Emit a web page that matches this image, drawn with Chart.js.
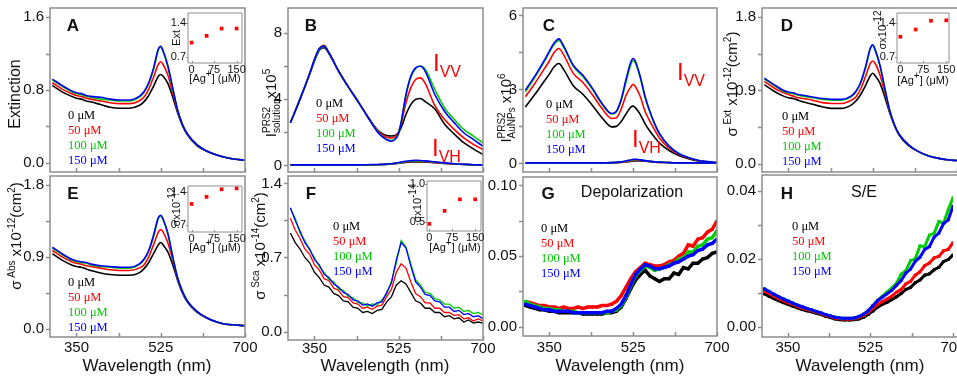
<!DOCTYPE html>
<html lang="en">
<head>
<meta charset="UTF-8" />
<title>Ag+ spectra panels</title>
<script src="https://cdn.jsdelivr.net/npm/chart.js@4.4.1/dist/chart.umd.min.js"></script>
<style>
  body { margin: 0; background: #fff; }
  #fig { position: relative; width: 957px; height: 388px; overflow: hidden;
         font-family: 'Liberation Sans', Arial, sans-serif; color: #111; }
  #fig canvas { position: absolute; left: 0; top: 0; }
  .lab { position: absolute; white-space: nowrap; transform: translate(-50%, -50%); }
  .rot { position: absolute; white-space: nowrap; transform: translate(-50%, -50%) rotate(-90deg); font-size: 15px; }
  .let { position: absolute; font-weight: bold; font-size: 17px; transform: translate(-50%, -50%); }
  .leg { position: absolute; font-family: 'Liberation Serif', 'DejaVu Serif', serif; font-size: 12.5px; line-height: 15px; }
  .iv { position: absolute; color: #f00; font-size: 24px; white-space: nowrap; transform: translate(0, -50%); }
  .iv sub { font-size: 16px; vertical-align: -6px; line-height: 0; }
  .wl { position: absolute; font-size: 17px; white-space: nowrap; transform: translate(-50%, -50%); }
  .ins { font-size: 11px; }
  sup, sub { line-height: 0; font-size: 10px; }
  .ss { display: inline-block; vertical-align: middle; line-height: 10px; font-size: 10px; text-align: left; }
  .k { color: #000; } .r { color: #f00; } .g { color: #00c800; } .b { color: #0000ff; }
</style>
</head>
<body>
<div id="fig"></div>

<script>
// wavelength grids (nm)
const WL = [300,320,340,350,360,370,380,400,420,440,460,480,490,500,510,520,525,530,540,550,560,570,580,600,620,640,660,680,700];
const WL10 = [300,310,320,330,340,350,360,370,380,390,400,410,420,430,440,450,460,470,480,490,500,510,520,530,540,550,560,570,580,590,600,610,620,630,640,650,660,670,680,690,700];
const AG = [0, 50, 100, 150];

// A: extinction
const A_BLACK = [0.85,0.78,0.73,0.71,0.70,0.68,0.67,0.64,0.61,0.60,0.60,0.63,0.67,0.74,0.84,0.95,0.97,0.95,0.87,0.72,0.55,0.41,0.31,0.19,0.13,0.09,0.06,0.04,0.03];
const A_RED   = [0.88,0.81,0.76,0.74,0.73,0.71,0.70,0.68,0.66,0.65,0.65,0.68,0.72,0.81,0.94,1.08,1.11,1.08,0.96,0.77,0.57,0.42,0.32,0.20,0.13,0.09,0.06,0.04,0.03];
const A_GREEN = [0.91,0.84,0.78,0.76,0.75,0.73,0.72,0.70,0.69,0.68,0.68,0.72,0.77,0.87,1.02,1.24,1.27,1.22,1.05,0.81,0.58,0.42,0.32,0.20,0.13,0.09,0.06,0.04,0.03];
const A_BLUE  = [0.92,0.85,0.79,0.77,0.76,0.74,0.73,0.72,0.70,0.69,0.69,0.73,0.78,0.88,1.04,1.25,1.28,1.23,1.06,0.82,0.58,0.42,0.32,0.20,0.13,0.09,0.06,0.04,0.03];
const A_INSET = [0.99, 1.13, 1.28, 1.28];

// B: I(PRS2) solution, x1e5
const B_BLACK = [2.57,4.0,5.5,6.3,6.95,7.1,6.75,5.68,4.74,3.87,2.97,2.17,1.93,1.80,1.77,1.85,2.0,2.27,3.07,3.67,3.98,4.04,3.85,3.4,2.5,1.9,1.37,1.0,0.65];
const B_RED   = [2.57,4.0,5.55,6.4,7.05,7.25,6.8,5.7,4.75,3.88,2.97,2.12,1.85,1.70,1.65,1.80,2.05,2.5,3.78,4.68,5.18,5.28,4.95,3.6,2.78,2.17,1.66,1.27,0.95];
const B_GREEN = [2.57,4.0,5.55,6.35,7.0,7.2,6.8,5.7,4.75,3.88,2.95,2.08,1.78,1.57,1.50,1.70,2.0,2.6,4.2,5.3,5.85,6.0,5.8,4.58,3.47,2.78,2.17,1.77,1.35];
const B_BLUE  = [2.57,4.0,5.55,6.4,7.05,7.2,6.8,5.7,4.75,3.88,2.95,2.05,1.75,1.55,1.46,1.65,1.95,2.6,4.28,5.38,5.89,5.98,5.68,4.28,3.27,2.58,1.97,1.57,1.15];
const B_VH_BLACK = [0.02,0.02,0.02,0.02,0.02,0.02,0.02,0.02,0.02,0.02,0.03,0.04,0.05,0.06,0.08,0.11,0.13,0.15,0.18,0.20,0.21,0.21,0.20,0.16,0.12,0.08,0.05,0.03,0.02];
const B_VH_RED   = [0.02,0.02,0.02,0.02,0.02,0.02,0.02,0.02,0.02,0.02,0.03,0.04,0.05,0.07,0.09,0.12,0.14,0.17,0.21,0.23,0.24,0.24,0.23,0.18,0.13,0.09,0.06,0.04,0.02];
const B_VH_GREEN = [0.02,0.02,0.02,0.02,0.02,0.02,0.02,0.02,0.02,0.02,0.03,0.04,0.05,0.07,0.09,0.13,0.15,0.18,0.23,0.25,0.26,0.26,0.25,0.20,0.14,0.10,0.06,0.04,0.03];
const B_VH_BLUE  = [0.03,0.03,0.03,0.03,0.03,0.03,0.03,0.03,0.03,0.03,0.04,0.05,0.06,0.08,0.10,0.14,0.17,0.20,0.25,0.28,0.30,0.29,0.27,0.21,0.15,0.10,0.07,0.04,0.03];

// C: I(PRS2) AuNPs, x1e6
const C_BLACK = [2.29,2.8,3.35,3.62,3.92,4.05,3.8,3.15,2.8,2.35,1.85,1.48,1.5,1.7,2.0,2.28,2.32,2.25,1.98,1.6,1.3,1.05,0.82,0.52,0.32,0.19,0.1,0.05,0.02];
const C_RED   = [2.7,3.25,3.85,4.15,4.5,4.66,4.4,3.65,3.28,2.78,2.22,1.82,1.85,2.2,2.75,3.1,3.21,3.1,2.7,2.1,1.7,1.35,1.02,0.62,0.37,0.22,0.12,0.06,0.03];
const C_GREEN = [2.9,3.5,4.15,4.5,4.82,4.98,4.7,3.94,3.52,3.0,2.4,2.0,2.08,2.55,3.3,4.0,4.17,4.05,3.45,2.66,2.07,1.58,1.19,0.69,0.4,0.24,0.13,0.07,0.03];
const C_BLUE  = [2.97,3.55,4.2,4.55,4.88,5.05,4.75,3.98,3.57,3.04,2.43,2.02,2.12,2.6,3.4,4.1,4.25,4.12,3.5,2.7,2.1,1.6,1.2,0.7,0.4,0.24,0.13,0.07,0.03];
const C_VH_BLACK = [0.02,0.02,0.02,0.02,0.02,0.02,0.02,0.02,0.02,0.02,0.02,0.02,0.03,0.04,0.06,0.08,0.09,0.10,0.10,0.09,0.07,0.05,0.04,0.03,0.02,0.02,0.02,0.02,0.02];
const C_VH_RED   = [0.02,0.02,0.02,0.02,0.02,0.02,0.02,0.02,0.02,0.02,0.02,0.03,0.03,0.05,0.07,0.10,0.11,0.12,0.12,0.10,0.08,0.06,0.04,0.03,0.02,0.02,0.02,0.02,0.02];
const C_VH_GREEN = [0.02,0.02,0.02,0.02,0.02,0.02,0.02,0.02,0.02,0.02,0.02,0.03,0.04,0.06,0.09,0.12,0.14,0.15,0.14,0.11,0.08,0.06,0.05,0.03,0.02,0.02,0.02,0.02,0.02];
const C_VH_BLUE  = [0.02,0.02,0.02,0.02,0.02,0.02,0.02,0.02,0.02,0.02,0.02,0.03,0.04,0.06,0.10,0.14,0.16,0.16,0.14,0.11,0.08,0.06,0.05,0.03,0.02,0.02,0.02,0.02,0.02];

// D: sigma ext x1e-12
const D_BLACK = [0.97,0.89,0.83,0.81,0.80,0.78,0.76,0.73,0.70,0.68,0.68,0.72,0.77,0.85,0.96,1.08,1.11,1.08,0.99,0.82,0.63,0.47,0.35,0.22,0.15,0.10,0.07,0.05,0.04];
const D_RED   = [1.01,0.93,0.87,0.85,0.83,0.81,0.80,0.78,0.75,0.74,0.74,0.78,0.82,0.92,1.07,1.23,1.26,1.23,1.09,0.88,0.65,0.48,0.36,0.23,0.15,0.10,0.07,0.05,0.04];
const D_GREEN = [1.04,0.96,0.89,0.87,0.86,0.84,0.83,0.81,0.79,0.78,0.78,0.82,0.88,0.99,1.17,1.41,1.45,1.39,1.20,0.92,0.66,0.48,0.36,0.23,0.15,0.10,0.07,0.05,0.04];
const D_BLUE  = [1.05,0.97,0.90,0.88,0.87,0.85,0.84,0.82,0.80,0.79,0.79,0.83,0.89,1.00,1.19,1.42,1.46,1.40,1.21,0.93,0.66,0.48,0.36,0.23,0.15,0.10,0.07,0.05,0.04];
const D_INSET = [1.12, 1.27, 1.45, 1.46];

// E: sigma abs x1e-12
const E_BLACK = [0.94,0.86,0.80,0.78,0.77,0.75,0.73,0.70,0.68,0.67,0.67,0.70,0.75,0.83,0.94,1.05,1.08,1.05,0.96,0.80,0.61,0.45,0.34,0.21,0.14,0.09,0.06,0.05,0.04];
const E_RED   = [0.98,0.90,0.84,0.82,0.81,0.79,0.78,0.76,0.74,0.73,0.73,0.76,0.80,0.90,1.05,1.21,1.24,1.21,1.07,0.86,0.63,0.46,0.35,0.22,0.14,0.09,0.06,0.05,0.04];
const E_GREEN = [1.01,0.93,0.86,0.84,0.83,0.82,0.80,0.78,0.77,0.76,0.76,0.80,0.86,0.97,1.15,1.38,1.41,1.36,1.18,0.89,0.64,0.47,0.35,0.22,0.14,0.09,0.06,0.05,0.04];
const E_BLUE  = [1.02,0.94,0.87,0.85,0.84,0.83,0.81,0.79,0.78,0.77,0.77,0.81,0.87,0.98,1.17,1.39,1.42,1.37,1.19,0.90,0.64,0.47,0.35,0.22,0.14,0.09,0.06,0.05,0.04];
const E_INSET = [1.14, 1.29, 1.45, 1.47];

// F: sigma sca x1e-14 (10 nm grid)
const F_BLACK = [0.93,0.84,0.78,0.70,0.65,0.56,0.51,0.44,0.42,0.36,0.34,0.29,0.28,0.23,0.22,0.18,0.19,0.17,0.20,0.21,0.28,0.33,0.44,0.48,0.45,0.37,0.29,0.27,0.22,0.22,0.18,0.18,0.14,0.15,0.12,0.13,0.09,0.11,0.08,0.09,0.08];
const F_RED   = [1.07,0.96,0.88,0.78,0.73,0.63,0.58,0.50,0.48,0.41,0.39,0.33,0.32,0.27,0.26,0.22,0.23,0.21,0.24,0.25,0.33,0.40,0.56,0.64,0.60,0.47,0.36,0.33,0.27,0.27,0.22,0.22,0.18,0.18,0.15,0.16,0.12,0.13,0.10,0.12,0.10];
const F_GREEN = [1.16,1.07,0.93,0.86,0.77,0.70,0.61,0.56,0.49,0.47,0.40,0.39,0.33,0.32,0.27,0.27,0.24,0.26,0.25,0.30,0.35,0.48,0.65,0.86,0.80,0.64,0.49,0.44,0.37,0.36,0.31,0.30,0.26,0.26,0.22,0.23,0.19,0.20,0.17,0.18,0.16];
const F_BLUE  = [1.17,1.05,0.95,0.84,0.78,0.68,0.63,0.54,0.51,0.45,0.42,0.37,0.35,0.30,0.29,0.25,0.26,0.24,0.27,0.28,0.37,0.46,0.68,0.84,0.79,0.62,0.47,0.42,0.35,0.34,0.29,0.28,0.23,0.23,0.19,0.20,0.16,0.17,0.14,0.15,0.12];
const F_INSET = [0.48, 0.65, 0.80, 0.80];

// G: depolarization
const G_BLACK = [0.015,0.014,0.013,0.012,0.012,0.011,0.011,0.010,0.010,0.010,0.010,0.010,0.009,0.009,0.009,0.009,0.009,0.010,0.010,0.011,0.014,0.020,0.027,0.033,0.037,0.040,0.036,0.034,0.032,0.034,0.034,0.038,0.037,0.042,0.041,0.045,0.045,0.048,0.049,0.052,0.053];
const G_RED   = [0.018,0.017,0.016,0.015,0.015,0.014,0.014,0.013,0.014,0.013,0.013,0.014,0.013,0.014,0.014,0.014,0.015,0.015,0.016,0.018,0.022,0.028,0.034,0.039,0.042,0.045,0.044,0.043,0.043,0.044,0.046,0.047,0.050,0.052,0.058,0.057,0.062,0.063,0.067,0.069,0.075];
const G_GREEN = [0.018,0.016,0.015,0.014,0.013,0.013,0.012,0.012,0.011,0.011,0.011,0.010,0.010,0.010,0.010,0.010,0.010,0.010,0.011,0.012,0.015,0.021,0.029,0.036,0.040,0.043,0.042,0.040,0.041,0.042,0.044,0.045,0.048,0.049,0.053,0.053,0.057,0.058,0.062,0.063,0.068];
const G_BLUE  = [0.016,0.015,0.014,0.013,0.012,0.012,0.011,0.011,0.011,0.011,0.010,0.010,0.010,0.010,0.010,0.010,0.010,0.011,0.011,0.013,0.016,0.022,0.030,0.037,0.041,0.044,0.043,0.041,0.041,0.042,0.043,0.045,0.046,0.048,0.050,0.051,0.054,0.055,0.058,0.059,0.062];

// H: scattering / extinction
const H_BLACK = [0.0097,0.0090,0.0083,0.0077,0.0071,0.0066,0.0061,0.0056,0.0051,0.0047,0.0044,0.0040,0.0036,0.0031,0.0027,0.0023,0.0021,0.0020,0.0020,0.0021,0.0023,0.0028,0.0036,0.0046,0.0058,0.0066,0.0072,0.0080,0.0088,0.0098,0.0110,0.0116,0.0130,0.0138,0.0152,0.0156,0.0168,0.0175,0.0192,0.0198,0.0212];
const H_RED   = [0.0105,0.0098,0.0090,0.0083,0.0077,0.0071,0.0066,0.0060,0.0055,0.0051,0.0047,0.0043,0.0038,0.0034,0.0030,0.0026,0.0024,0.0023,0.0023,0.0024,0.0027,0.0033,0.0042,0.0054,0.0066,0.0074,0.0082,0.0090,0.0102,0.0110,0.0126,0.0134,0.0152,0.0162,0.0180,0.0188,0.0203,0.0207,0.0224,0.0228,0.0248];
const H_GREEN = [0.0112,0.0104,0.0096,0.0089,0.0082,0.0076,0.0070,0.0064,0.0059,0.0054,0.0050,0.0045,0.0041,0.0036,0.0032,0.0028,0.0026,0.0025,0.0025,0.0026,0.0030,0.0037,0.0047,0.0062,0.0078,0.0090,0.0102,0.0114,0.0128,0.0155,0.0165,0.0195,0.0200,0.0238,0.0236,0.0270,0.0275,0.0310,0.0305,0.0345,0.0380];
const H_BLUE  = [0.0112,0.0104,0.0096,0.0089,0.0082,0.0076,0.0070,0.0064,0.0059,0.0054,0.0050,0.0045,0.0041,0.0036,0.0032,0.0028,0.0026,0.0025,0.0025,0.0026,0.0030,0.0037,0.0047,0.0062,0.0077,0.0087,0.0097,0.0107,0.0122,0.0136,0.0158,0.0170,0.0193,0.0205,0.0228,0.0236,0.0264,0.0276,0.0304,0.0315,0.0355];

const BLACK = '#000000', RED = '#ff0000', GREEN = '#00d000', BLUE = '#0000ff';

// box + tick marks around the plot area
const framePlugin = {
  id: 'frame',
  beforeDatasetsDraw(chart, args, opts) {
    if (!opts.fill) return;
    const a = chart.chartArea;
    chart.ctx.save();
    chart.ctx.fillStyle = '#fff';
    chart.ctx.fillRect(a.left, a.top, a.right - a.left, a.bottom - a.top);
    chart.ctx.restore();
  },
  afterDraw(chart, args, opts) {
    const { ctx, chartArea: a, scales } = chart;
    ctx.save();
    ctx.strokeStyle = '#8d8d8d';
    ctx.lineWidth = opts.width || 1.5;
    ctx.beginPath();
    if (opts.open) {
      ctx.moveTo(a.right + 5, a.top); ctx.lineTo(a.left, a.top);
      ctx.lineTo(a.left, a.bottom); ctx.lineTo(a.right + 5, a.bottom);
    } else {
      ctx.rect(a.left, a.top, a.right - a.left, a.bottom - a.top);
    }
    const t = opts.tick || 4;
    scales.y.ticks.forEach(k => {
      const py = Math.round(scales.y.getPixelForValue(k.value)) + 0.5;
      ctx.moveTo(a.left - t, py); ctx.lineTo(a.left, py);
    });
    scales.x.ticks.forEach(k => {
      const px = Math.round(scales.x.getPixelForValue(k.value)) + 0.5;
      ctx.moveTo(px, a.bottom); ctx.lineTo(px, a.bottom - t);
    });
    ctx.stroke();
    ctx.restore();
  }
};
Chart.register(framePlugin);

const fig = document.getElementById('fig');

function panel(o) {
  const cv = document.createElement('canvas');
  cv.width = 957; cv.height = 388;
  fig.appendChild(cv);
  const yw = o.yw || 45, xh = o.xh || 0, fs = o.fs || 15;
  const font = { family: "'Liberation Sans', Arial, sans-serif", size: fs };
  return new Chart(cv, {
    type: 'line',
    data: {
      datasets: o.sets.map(s => ({
        data: o.xs.map((x, i) => ({ x: x, y: s.v[i] })),
        borderColor: s.c,
        backgroundColor: s.c,
        borderWidth: o.bw || 1.6,
        pointRadius: o.pr || 0,
        pointStyle: 'rect',
        pointBorderWidth: 0,
        showLine: !o.noLine,
        cubicInterpolationMode: o.smooth ? 'monotone' : 'default',
        tension: 0,
        fill: false
      }))
    },
    options: {
      responsive: false,
      animation: false,
      events: [],
      layout: { padding: { left: o.L - yw, right: 957 - o.R, top: o.T, bottom: 388 - o.B - xh } },
      plugins: {
        legend: { display: false },
        tooltip: { enabled: false },
        frame: { open: o.open, tick: o.tick, fill: o.fill, width: o.fw }
      },
      scales: {
        x: {
          type: 'linear', min: o.xmin, max: o.xmax,
          afterBuildTicks: s => { s.ticks = o.xt.map(v => ({ value: v })); },
          afterFit: s => { s.height = xh; s.paddingLeft = 0; s.paddingRight = 0; },
          grid: { display: false, drawTicks: false },
          border: { display: false },
          ticks: { display: xh > 0, autoSkip: false, maxRotation: 0, padding: o.xpad || 0,
                   color: '#111', font: font, callback: (v, i) => o.xl[i] }
        },
        y: {
          type: 'linear', min: o.ymin, max: o.ymax,
          afterBuildTicks: s => { s.ticks = o.yt.map(v => ({ value: v })); },
          afterFit: s => { s.width = yw; s.paddingTop = 0; s.paddingBottom = 0; },
          grid: { display: false, drawTicks: false },
          border: { display: false },
          ticks: { autoSkip: false, padding: o.ypad || 6, color: '#111', font: font,
                   callback: (v, i) => o.yl[i] }
        }
      }
    }
  });
}

const XT = [350, 437.5, 525, 612.5, 700];
const XL_TOP = ['', '', '', '', ''];
const XL_BOT = ['350', '', '525', '', '700'];
const four = (k, r, g, b) => [{ v: b, c: BLUE }, { v: g, c: GREEN }, { v: r, c: RED }, { v: k, c: BLACK }];

// top row
panel({ L: 50, T: 8, R: 245, B: 172, xs: WL, smooth: true, xmin: 295, xmax: 700, xt: XT, xl: XL_TOP,
  ymin: -0.1, ymax: 1.7, yt: [0, 0.4, 0.8, 1.2, 1.6], yl: ['0.0', '', '0.8', '', '1.6'],
  sets: four(A_BLACK, A_RED, A_GREEN, A_BLUE) });
panel({ L: 288, T: 8, R: 483, B: 172, xs: WL, smooth: true, xmin: 295, xmax: 700, xt: XT, xl: XL_TOP,
  ymin: -0.4, ymax: 9.5, yt: [0, 2, 4, 6, 8], yl: ['0', '', '4', '', '8'],
  sets: four(B_VH_BLACK, B_VH_RED, B_VH_GREEN, B_VH_BLUE).concat(four(B_BLACK, B_RED, B_GREEN, B_BLUE)) });
panel({ L: 523, T: 8, R: 717, B: 172, xs: WL, smooth: true, xmin: 295, xmax: 700, xt: XT, xl: XL_TOP,
  ymin: -0.35, ymax: 6.3, yt: [0, 1.5, 3, 4.5, 6], yl: ['0', '', '3', '', '6'],
  sets: four(C_VH_BLACK, C_VH_RED, C_VH_GREEN, C_VH_BLUE).concat(four(C_BLACK, C_RED, C_GREEN, C_BLUE)) });
panel({ L: 762, T: 8, R: 961, B: 172, xs: WL, smooth: true, open: true, xmin: 295, xmax: 700, xt: XT, xl: XL_TOP,
  ymin: -0.1, ymax: 1.91, yt: [0, 0.45, 0.9, 1.35, 1.8], yl: ['0.0', '', '0.9', '', '1.8'],
  sets: four(D_BLACK, D_RED, D_GREEN, D_BLUE) });

// bottom row
panel({ L: 50, T: 176, R: 245, B: 337, xh: 30, xpad: 2, xs: WL, smooth: true, xmin: 295, xmax: 700, xt: XT, xl: XL_BOT,
  ymin: -0.1, ymax: 1.91, yt: [0, 0.45, 0.9, 1.35, 1.8], yl: ['0.0', '', '0.9', '', '1.8'],
  sets: four(E_BLACK, E_RED, E_GREEN, E_BLUE) });
panel({ L: 288, T: 176, R: 483, B: 340, xh: 30, xpad: 0, xs: WL10, bw: 1.3, xmin: 295, xmax: 700, xt: XT, xl: XL_BOT,
  ymin: -0.08, ymax: 1.47, yt: [0, 0.35, 0.7, 1.05, 1.4], yl: ['0.0', '', '0.7', '', '1.4'],
  sets: four(F_BLACK, F_RED, F_GREEN, F_BLUE) });
panel({ L: 523, T: 177, R: 717, B: 336, xh: 30, xpad: 3, xs: WL10, bw: 3.5, pr: 2, xmin: 295, xmax: 700, xt: XT, xl: XL_BOT,
  ymin: -0.0065, ymax: 0.106, yt: [0, 0.025, 0.05, 0.075, 0.1], yl: ['0.00', '', '0.05', '', '0.10'],
  sets: four(G_BLACK, G_RED, G_GREEN, G_BLUE) });
panel({ L: 762, T: 175, R: 961, B: 337, xh: 30, xpad: 2, open: true, xs: WL10, bw: 3, pr: 2, xmin: 295, xmax: 700, xt: XT, xl: XL_BOT,
  ymin: -0.003, ymax: 0.0447, yt: [0, 0.01, 0.02, 0.03, 0.04], yl: ['0.00', '', '0.02', '', '0.04'],
  sets: four(H_BLACK, H_RED, H_GREEN, H_BLUE) });

// insets: [Ag+] dependence
const INS = { yw: 22, xh: 12, fs: 11, tick: 2, fw: 1, fill: true, noLine: true, pr: 2.6, xs: AG,
  xt: [0, 75, 150], xl: ['0', '75', '150'], ypad: 2, xpad: 0 };
panel(Object.assign({}, INS, { L: 188, T: 13, R: 242, B: 63, xmin: -12, xmax: 168, ymin: 0.57, ymax: 1.60,
  yt: [0.7, 1.4], yl: ['0.7', '1.4'], sets: [{ v: A_INSET, c: RED }] }));
panel(Object.assign({}, INS, { L: 897, T: 13, R: 949, B: 63, xmin: -11, xmax: 159, ymin: 0.58, ymax: 1.61,
  yt: [0.7, 1.4], yl: ['0.7', '1.4'], sets: [{ v: D_INSET, c: RED }] }));
panel(Object.assign({}, INS, { L: 188, T: 186, R: 242, B: 232, xmin: -12, xmax: 168, ymin: 0.545, ymax: 1.52,
  yt: [0.7, 1.4], yl: ['0.7', '1.4'], sets: [{ v: E_INSET, c: RED }] }));
panel(Object.assign({}, INS, { L: 427, T: 181, R: 481, B: 231, xmin: -7.5, xmax: 169, ymin: 0.386, ymax: 1.04,
  yt: [0.5, 1.0], yl: ['0.5', '1.0'], sets: [{ v: F_INSET, c: RED }] }));

// text layer
fig.insertAdjacentHTML('beforeend', `
  <div class="let" style="left:73px;top:26px">A</div>
  <div class="let" style="left:311px;top:26px">B</div>
  <div class="let" style="left:549px;top:26px">C</div>
  <div class="let" style="left:787px;top:26px">D</div>
  <div class="let" style="left:73px;top:194px">E</div>
  <div class="let" style="left:311px;top:194px">F</div>
  <div class="let" style="left:548px;top:194px">G</div>
  <div class="let" style="left:787px;top:194px">H</div>

  <div class="rot" style="left:15px;top:94px;font-size:16px">Extinction</div>
  <div class="rot" style="left:272px;top:103px">I<span class="ss">PRS2<br>solution</span>x10<sup>5</sup></div>
  <div class="rot" style="left:507px;top:108px">I<span class="ss">PRS2<br>AuNPs</span> x10<sup>6</sup></div>
  <div class="rot" style="left:731px;top:84px">&sigma;<sup>&nbsp;Ext</sup> x10<sup>-12</sup>(cm<sup>2</sup>)</div>
  <div class="rot" style="left:15px;top:236px">&sigma;<sup>&nbsp;Abs</sup> x10<sup>-12</sup>(cm<sup>2</sup>)</div>
  <div class="rot" style="left:259px;top:246px">&sigma;<sup>&nbsp;Sca</sup> x10<sup>-14</sup>(cm<sup>2</sup>)</div>

  <div class="wl" style="left:147px;top:366px">Wavelength (nm)</div>
  <div class="wl" style="left:385px;top:366px">Wavelength (nm)</div>
  <div class="wl" style="left:620px;top:366px">Wavelength (nm)</div>
  <div class="wl" style="left:860px;top:366px">Wavelength (nm)</div>

  <div class="lab" style="left:632px;top:192px;font-size:16px">Depolarization</div>
  <div class="lab" style="left:864px;top:192px;font-size:16px">S/E</div>

  <div class="iv" style="left:433px;top:63px">I<sub>VV</sub></div>
  <div class="iv" style="left:432px;top:148px">I<sub>VH</sub></div>
  <div class="iv" style="left:677px;top:72px">I<sub>VV</sub></div>
  <div class="iv" style="left:632px;top:139px">I<sub>VH</sub></div>

  <div class="leg" style="left:68px;top:108px"><div class="k">0 &mu;M</div><div class="r">50 &mu;M</div><div class="g">100 &mu;M</div><div class="b">150 &mu;M</div></div>
  <div class="leg" style="left:316px;top:96px"><div class="k">0 &mu;M</div><div class="r">50 &mu;M</div><div class="g">100 &mu;M</div><div class="b">150 &mu;M</div></div>
  <div class="leg" style="left:546px;top:97px"><div class="k">0 &mu;M</div><div class="r">50 &mu;M</div><div class="g">100 &mu;M</div><div class="b">150 &mu;M</div></div>
  <div class="leg" style="left:782px;top:109px"><div class="k">0 &mu;M</div><div class="r">50 &mu;M</div><div class="g">100 &mu;M</div><div class="b">150 &mu;M</div></div>
  <div class="leg" style="left:68px;top:275px"><div class="k">0 &mu;M</div><div class="r">50 &mu;M</div><div class="g">100 &mu;M</div><div class="b">150 &mu;M</div></div>
  <div class="leg" style="left:333px;top:219px"><div class="k">0 &mu;M</div><div class="r">50 &mu;M</div><div class="g">100 &mu;M</div><div class="b">150 &mu;M</div></div>
  <div class="leg" style="left:541px;top:221px"><div class="k">0 &mu;M</div><div class="r">50 &mu;M</div><div class="g">100 &mu;M</div><div class="b">150 &mu;M</div></div>
  <div class="leg" style="left:792px;top:219px"><div class="k">0 &mu;M</div><div class="r">50 &mu;M</div><div class="g">100 &mu;M</div><div class="b">150 &mu;M</div></div>

  <div class="rot ins" style="left:176px;top:38px">Ext</div>
  <div class="lab ins" style="left:215px;top:78px">[Ag<sup>+</sup>] (&mu;M)</div>
  <div class="rot ins" style="left:882px;top:30px">&sigma;x10<sup>-12</sup></div>
  <div class="lab ins" style="left:923px;top:80px">[Ag<sup>+</sup>] (&mu;M)</div>
  <div class="rot ins" style="left:176px;top:207px">&sigma;x10<sup>-12</sup></div>
  <div class="lab ins" style="left:215px;top:247px">[Ag<sup>+</sup>] (&mu;M)</div>
  <div class="rot ins" style="left:417px;top:203px">&sigma;x10<sup>-14</sup></div>
  <div class="lab ins" style="left:455px;top:247px">[Ag<sup>+</sup>] (&mu;M)</div>
`);
</script>
</body>
</html>
